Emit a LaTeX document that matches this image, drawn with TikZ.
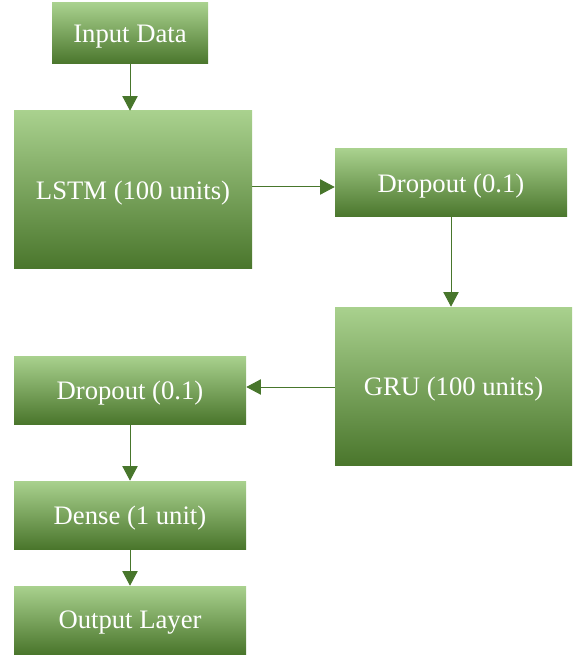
\documentclass[tikz,border=0pt]{standalone}
\usepackage{fontspec}
\setmainfont{Liberation Serif}
\definecolor{leafTop}{RGB}{169, 209, 142}
\definecolor{leafMid}{RGB}{112, 173, 71}
\definecolor{leafBot}{RGB}{74, 118, 44}
\definecolor{leafDark}{RGB}{72, 118, 44}
\usepackage{tikz}
\usetikzlibrary{arrows.meta}

\begin{document}
\begin{tikzpicture}[
    x=0.75pt, y=-0.75pt,
    block/.style={rectangle, top color=leafTop, middle color=leafMid,
                  bottom color=leafBot, text=white, align=center,
                  minimum width=174pt, minimum height=51pt, inner sep=0pt,
                  text depth=0pt, font=\fontsize{20}{24}\selectfont},
    bigblock/.style={block, minimum height=118.5pt},
    signal/.style={-{Triangle[length=11pt, width=11.5pt]}, draw=leafDark,
                   line width=0.75pt},
  ]
    \useasboundingbox (0,0) rectangle (573,655);

    \node[block, minimum width=117pt, minimum height=45.75pt] (IN) at (130,33.5) {Input Data};
    \node[bigblock, minimum width=178.5pt] (LSTM) at (133,190) {LSTM (100 units)};
    \node[block] (DO1) at (451,183) {Dropout (0.1)};
    \node[bigblock, minimum width=177.75pt] (GRU) at (453.5,386) {GRU (100 units)};
    \node[block] (DO2) at (130,390) {Dropout (0.1)};
    \node[block] (DEN) at (130,515) {Dense (1 unit)};
    \node[block] (OUT) at (130,620) {Output Layer};

    \draw[signal] (IN.south) -- (IN.south |- LSTM.north);
    \draw[signal] (LSTM.east |- 0,187) -- (DO1.west |- 0,187);
    \draw[signal] (DO1.south) -- (DO1.south |- GRU.north);
    \draw[signal] (GRU.west |- 0,387) -- (DO2.east |- 0,387);
    \draw[signal] (DO2.south) -- (DEN.north);
    \draw[signal] (DEN.south) -- (OUT.north);
  \end{tikzpicture}
\end{document}
